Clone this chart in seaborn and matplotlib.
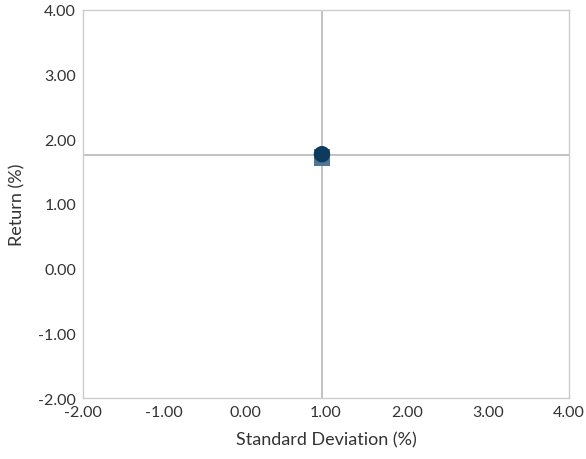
import numpy as np
import pandas as pd
import matplotlib
matplotlib.use("Agg")
import matplotlib.pyplot as plt
import seaborn as sns

# risk / return points
names = ["Fund", "Benchmark"]
std_dev = [0.95, 0.95]
returns = [1.72, 1.77]
markers = {"Fund": "s", "Benchmark": "o"}
colors = {"Fund": "#4f7793", "Benchmark": "#0e3a5e"}
cross_x = 0.95
cross_y = 1.75

ticks = [-2, -1, 0, 1, 2, 3, 4]

df = pd.DataFrame({"name": names, "sd": std_dev, "ret": returns})

sns.set_style("white")
plt.rcParams["font.family"] = ["Lato", "DejaVu Sans"]

fig = plt.figure(figsize=(5.86, 4.6), dpi=100)
ax = fig.add_axes([0.1416, 0.1326, 0.8294, 0.8435])

ax.axvline(cross_x, color="#bdbdbd", lw=1.3, zorder=1)
ax.axhline(cross_y, color="#bdbdbd", lw=1.3, zorder=1)

sns.scatterplot(data=df, x="sd", y="ret", hue="name", style="name",
                markers=markers, palette=colors, s=140, linewidth=0,
                legend=False, ax=ax, zorder=3)

ax.set_xlim(-2, 4)
ax.set_ylim(-2, 4)
ax.set_xticks(ticks)
ax.set_yticks(ticks)
ax.set_xticklabels([f"{t:.2f}" for t in ticks])
ax.set_yticklabels([f"{t:.2f}" for t in ticks])
ax.tick_params(length=0, labelsize=11.5, colors="#333333", pad=5)
for s in ax.spines.values():
    s.set_color("#cccccc")
    s.set_linewidth(1)
ax.set_xlabel("Standard Deviation (%)", fontsize=13, color="#333333", labelpad=9)
ax.set_ylabel("Return (%)", fontsize=13, color="#333333", labelpad=9)

fig.savefig("out.png", dpi=100)
